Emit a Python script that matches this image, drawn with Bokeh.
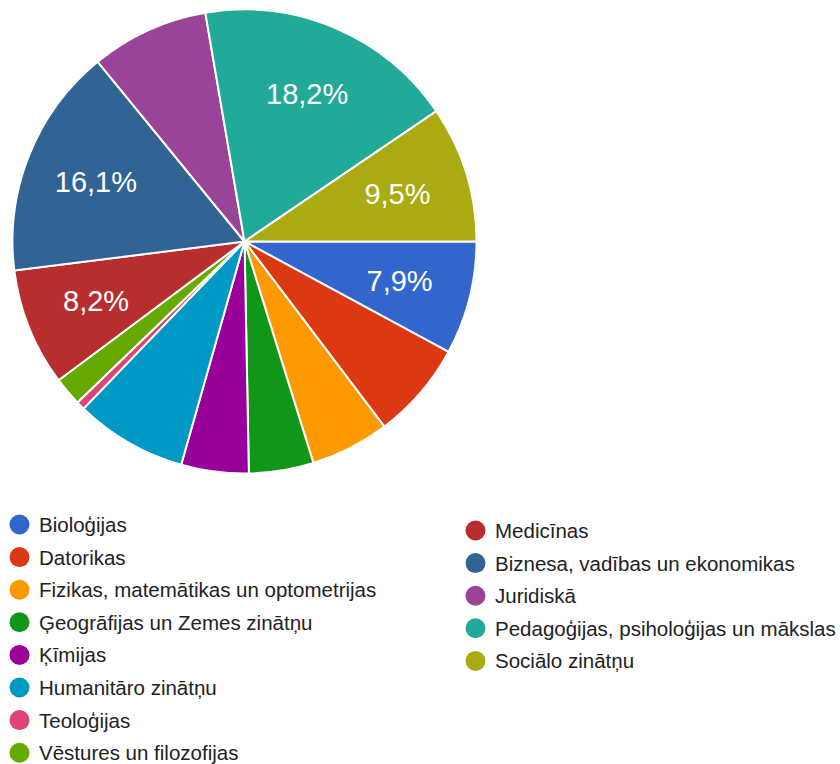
import numpy as np
from bokeh.plotting import figure
from bokeh.models import ColumnDataSource, Range1d
from bokeh.core.properties import value
from bokeh.embed import file_html
from bokeh.resources import INLINE

categories = [
    "Bioloģijas",
    "Datorikas",
    "Fizikas, matemātikas un optometrijas",
    "Ģeogrāfijas un Zemes zinātņu",
    "Ķīmijas",
    "Humanitāro zinātņu",
    "Teoloģijas",
    "Vēstures un filozofijas",
    "Medicīnas",
    "Biznesa, vadības un ekonomikas",
    "Juridiskā",
    "Pedagoģijas, psiholoģijas un mākslas",
    "Sociālo zinātņu",
]
shares = [7.9, 6.8, 5.5, 4.5, 4.7, 7.8, 0.6, 2.0, 8.2, 16.1, 8.2, 18.2, 9.5]
show_label = [True, False, False, False, False, False, False, False, True, True, False, True, True]
colors = ["#3366cc", "#dc3912", "#ff9900", "#109618", "#990099", "#0099c6", "#dd4477",
          "#66aa00", "#b82e2e", "#316395", "#994499", "#22aa99", "#aaaa11"]

W, H = 840, 764
p = figure(width=W, height=H, x_range=Range1d(0, W), y_range=Range1d(0, H),
           output_backend="svg", toolbar_location=None, min_border=0)
p.axis.visible = False
p.grid.visible = False
p.outline_line_color = None
p.background_fill_color = "white"
p.border_fill_color = "white"

cx, cy, R = 244, H - 241, 232
frac = np.array(shares) / sum(shares)
ends = np.cumsum(frac)
starts = ends - frac
src = ColumnDataSource(dict(start=-2 * np.pi * ends, end=-2 * np.pi * starts,
                            color=colors, cat=categories))
p.wedge(x=cx, y=cy, radius=R, start_angle="start", end_angle="end",
        fill_color="color", line_color="white", line_width=2, source=src)

mid = -np.pi * (starts + ends)
lr = 160
labels = [(f"{v:.1f}%".replace(".", ",") if s else "") for v, s in zip(shares, show_label)]
lsrc = ColumnDataSource(dict(x=cx + lr * np.cos(mid), y=cy + lr * np.sin(mid), t=labels))
p.text(x="x", y="y", text="t", source=lsrc, text_color="white",
       text_font=value("Liberation Sans"), text_font_size="29px",
       text_align="center", text_baseline="middle")

# legend
n_left = 8
step = 32.6
lx, ly = [], []
for i in range(len(categories)):
    if i < n_left:
        lx.append(19)
        ly.append(H - (524 + step * i))
    else:
        lx.append(475)
        ly.append(H - (530 + step * (i - n_left)))
legsrc = ColumnDataSource(dict(x=lx, y=ly, tx=[v + 19.5 for v in lx], color=colors, cat=categories))
p.scatter(x="x", y="y", size=20, marker="circle", fill_color="color", line_color=None, source=legsrc)
p.text(x="tx", y="y", text="cat", source=legsrc, text_color="#222222",
       text_font=value("Liberation Sans"), text_font_size="20.5px",
       text_align="left", text_baseline="middle")

open("out.html", "w").write(file_html(p, INLINE))
